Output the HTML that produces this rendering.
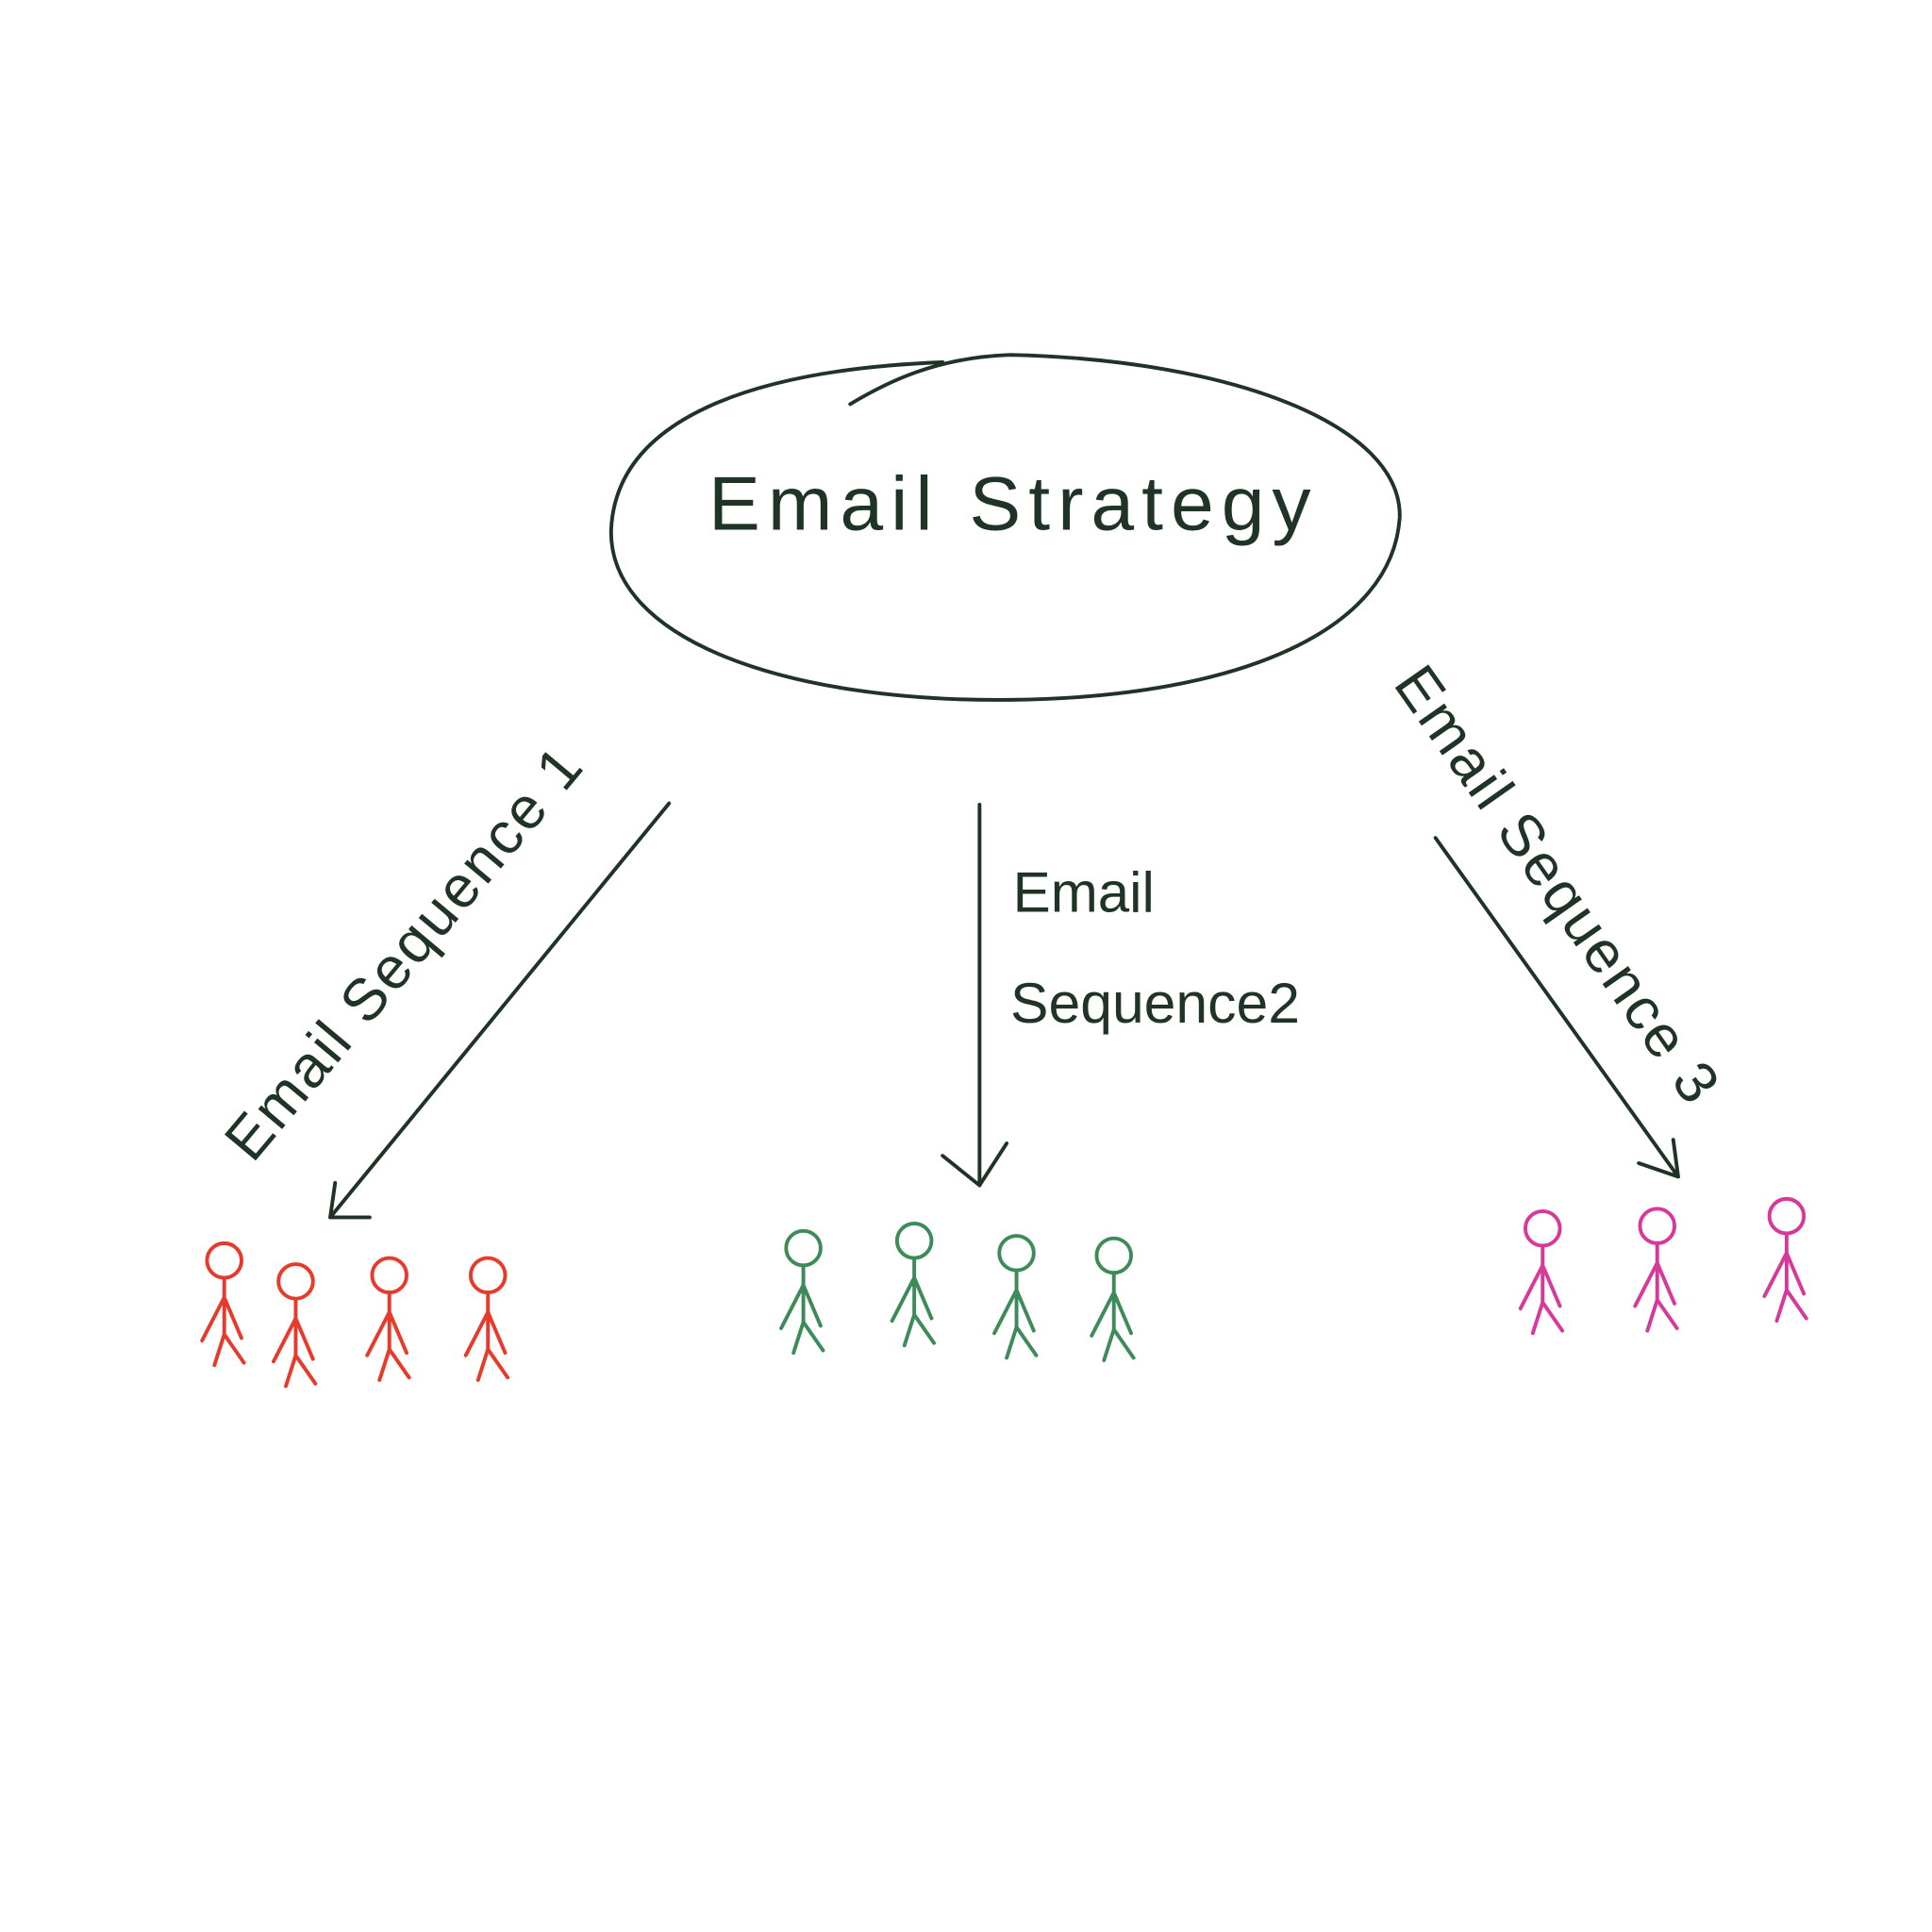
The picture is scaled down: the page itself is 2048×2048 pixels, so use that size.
<!DOCTYPE html>
<html><head><meta charset="utf-8"><style>html,body{margin:0;padding:0;background:#fff}svg{display:block}</style></head>
<body>
<svg width="2048" height="2048" viewBox="0 0 1568 1568" xmlns="http://www.w3.org/2000/svg">
<rect width="1568" height="1568" fill="#fff"/>
<g fill="none" stroke="#1f3326" stroke-width="3" stroke-linecap="round">
<path d="M765 294 C610 300 500 340 496 430 C494 520 640 570 820 568 C1010 566 1130 510 1136 420 C1138 345 1000 292 820 288 C760 290 720 310 690 328"/>
<path d="M543 652 L268 988 M268 988 L272 960 M268 988 L300 988"/>
<path d="M795 653 L795 962 M795 962 L765 938 M795 962 L817 928"/>
<path d="M1165 680 L1362 955 M1362 955 L1330 944 M1362 955 L1358 925"/>
</g>
<g font-family="Liberation Sans, sans-serif" fill="#1f3326">
<text x="575" y="430" font-size="62" letter-spacing="6" textLength="495" lengthAdjust="spacingAndGlyphs">Email  Strategy</text>
<text x="0" y="0" font-size="48" transform="translate(205 945) rotate(-50)" letter-spacing="2">Email Sequence 1</text>
<text x="822" y="740" font-size="46">Email</text>
<text x="820" y="830" font-size="46" textLength="235" lengthAdjust="spacingAndGlyphs">Sequence2</text>
<text x="0" y="0" font-size="48" transform="translate(1130 555) rotate(55)" letter-spacing="2">Email Sequence 3</text>
</g>
<defs>
<g id="fig" fill="none" stroke-width="3" stroke-linecap="round">
<circle cx="0" cy="15" r="14"/>
<path d="M0 29 L0 75 M0 45 L-18 80 M0 45 L14 78 M0 75 L-8 100 M0 75 L16 98"/>
</g>
</defs>
<g stroke="#e8392a">
<use href="#fig" x="182" y="1008"/><use href="#fig" x="240" y="1025"/><use href="#fig" x="316" y="1020"/><use href="#fig" x="396" y="1020"/>
</g>
<g stroke="#3e8b5a">
<use href="#fig" x="652" y="998"/><use href="#fig" x="742" y="992"/><use href="#fig" x="825" y="1002"/><use href="#fig" x="904" y="1004"/>
</g>
<g stroke="#d8389a">
<use href="#fig" x="1252" y="982"/><use href="#fig" x="1345" y="980"/><use href="#fig" x="1450" y="972"/>
</g>
</svg>
</body></html>
